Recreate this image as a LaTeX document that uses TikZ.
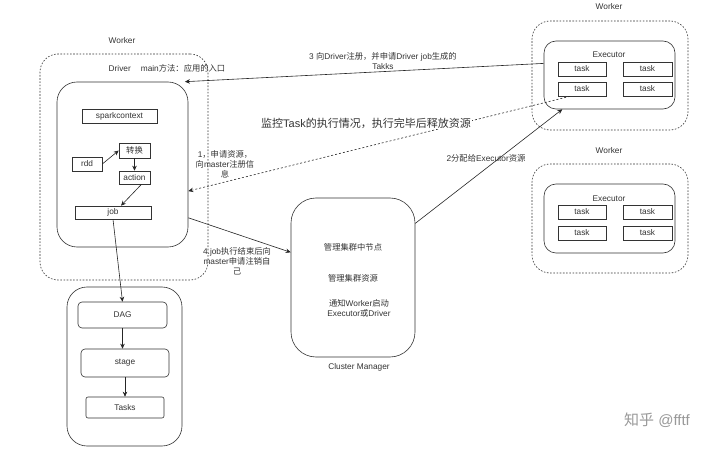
\documentclass[tikz,border=0pt]{standalone}
\usepackage{fontspec}
\setmainfont{Liberation Sans}
\newfontfamily\cjk{Noto Sans CJK SC}
\usetikzlibrary{arrows.meta,calc}
\begin{document}
\begin{tikzpicture}[x=1pt,y=-1pt,
  txt/.style={font=\fontsize{8.3}{10}\selectfont, text=black!80, inner sep=1pt, align=center},
  box/.style={draw=black!80, line width=0.6pt, fill=white, inner sep=0pt, font=\fontsize{8.3}{10}\selectfont, text=black!80},
  wbox/.style={draw=black!80, line width=0.6pt, dash pattern=on 1.6pt off 1.6pt, rounded corners=18pt, inner sep=0pt},
  rbox/.style={box, rounded corners=#1},
  arr/.style={draw=black!85, line width=0.6pt, -{Stealth[length=5pt,width=4.5pt]}},
  darr/.style={arr, dash pattern=on 2pt off 2pt}
]
\useasboundingbox (0,0) rectangle (720,449);
\fill[white] (0,0) rectangle (720,449);

% left worker
\node[wbox, minimum width=168pt, minimum height=226pt] (wkL) at (124,167) {};
\node[txt] (lwkL) at (122,41) {Worker};
\node[txt] (ldrv) at (167,68) {Driver\hspace{10pt}main{\cjk 方法：应用的入口}};
\node[rbox=20pt, minimum width=131pt, minimum height=165pt, fill=none] (driver) at (122.5,164.5) {};
\node[box, minimum width=75pt, minimum height=14pt] (sc) at (119.5,116) {sparkcontext};
\node[box, minimum width=31pt, minimum height=15pt] (zh) at (134.5,150.5) {\cjk 转换};
\node[box, minimum width=30pt, minimum height=14pt] (rdd) at (87,164) {rdd};
\node[box, minimum width=31pt, minimum height=13pt] (act) at (134.5,177.5) {action};
\node[box, minimum width=76pt, minimum height=13pt] (job) at (113,212.5) {job};

% DAG group
\node[rbox=20pt, minimum width=115pt, minimum height=159pt] (dgo) at (124.5,366.5) {};
\node[rbox=4pt, minimum width=89pt, minimum height=26pt] (dag) at (122.5,315) {DAG};
\node[rbox=4pt, minimum width=88pt, minimum height=28pt] (stage) at (125,363) {stage};
\node[rbox=2pt, minimum width=78pt, minimum height=21pt] (tasks) at (125,407.5) {Tasks};

% cluster manager
\node[rbox=25pt, minimum width=124pt, minimum height=159pt] (cm) at (353,277.5) {};
\node[txt] (cm1) at (353,247) {\cjk 管理集群中节点};
\node[txt] (cm2) at (353,278) {\cjk 管理集群资源};
\node[txt] (cm3) at (359,308) {{\cjk 通知}Worker{\cjk 启动}\\Executor{\cjk 或}Driver};
\node[txt] (lcm) at (359,367) {Cluster Manager};

% worker 1
\node[wbox, minimum width=156pt, minimum height=109pt] (wk1) at (610,75.5) {};
\node[txt] (lwk1) at (609,7) {Worker};
\node[rbox=12pt, minimum width=131pt, minimum height=68pt] (ex1) at (609.5,75) {};
\node[txt] (lex1) at (609,55) {Executor};
\node[box, minimum width=48pt, minimum height=14pt] (t11) at (582,69) {task};
\node[box, minimum width=49pt, minimum height=14pt] (t12) at (647.5,69) {task};
\node[box, minimum width=48pt, minimum height=14pt] (t21) at (582,89) {task};
\node[box, minimum width=49pt, minimum height=14pt] (t22) at (647.5,89) {task};

% worker 2
\node[wbox, minimum width=156pt, minimum height=109pt] (wk2) at (610,218.5) {};
\node[txt] (lwk2) at (609,151) {Worker};
\node[rbox=12pt, minimum width=131pt, minimum height=69pt] (ex2) at (609.5,218.5) {};
\node[txt] (lex2) at (609,199) {Executor};
\node[box, minimum width=48pt, minimum height=14pt] (s11) at (582,212) {task};
\node[box, minimum width=49pt, minimum height=14pt] (s12) at (647.5,212) {task};
\node[box, minimum width=48pt, minimum height=14pt] (s21) at (582,233) {task};
\node[box, minimum width=49pt, minimum height=14pt] (s22) at (647.5,233) {task};

% inner arrows
\draw[arr] (rdd.east) -- (zh.west);
\draw[arr] (zh.south) -- (act.north);
\draw[arr] ($(act.south)+(7,0)$) -- ($(job.north)+(8,0)$);
\draw[arr] (job.south) -- (dag.north);
\draw[arr] (dag.south) -- (dag.south |- stage.north);
\draw[arr] (stage.south) -- (stage.south |- tasks.north);

% big arrows
\draw[arr] (ex1.170) -- (driver.53);
\draw[darr] ($(t21.south)+(-12,0)$) -- (driver.-22);
\draw[arr] (driver.-39) -- (cm.158);
\draw[arr] (cm.41) -- (ex1.216);

% labels
\node[txt] (l3) at (383,61) {3 {\cjk 向}Driver{\cjk 注册，并申请}Driver job{\cjk 生成的}\\Takks};
\node[txt, font=\fontsize{11}{13}\selectfont, fill=white] (lmon) at (366,123) {{\cjk 监控}Task{\cjk 的执行情况，执行完毕后释放资源}};
\node[txt] (l1) at (225,164) {1{\cjk ，申请资源，}\\{\cjk 向}master{\cjk 注册信}\\{\cjk 息}};
\node[txt] (l4) at (237,261) {4.job{\cjk 执行结束后向}\\master{\cjk 申请注销自}\\{\cjk 己}};
\node[txt] (l2) at (486,158) {2{\cjk 分配给}Executor{\cjk 资源}};

% watermark
\node[font=\fontsize{15}{17}\selectfont, text=black!40] (wm) at (657,420) {{\cjk 知乎} @fftf};
\end{tikzpicture}
\end{document}
